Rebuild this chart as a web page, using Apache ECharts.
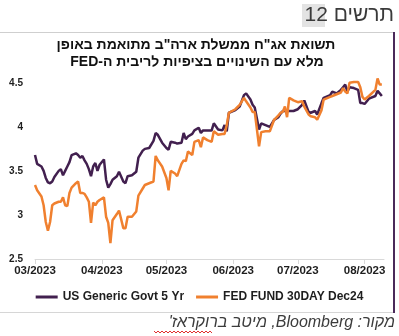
<!DOCTYPE html>
<html>
<head>
<meta charset="utf-8">
<script src="https://cdn.jsdelivr.net/npm/echarts@6/dist/echarts.min.js"></script>
<style>
  html, body { margin: 0; padding: 0; background: #ffffff; }
  #chart { width: 399px; height: 336px; direction: rtl; }
</style>
</head>
<body>
<div id="chart"></div>
<script>
// Trading dates (sampled) for both series
const dates = [
  '2023-03-01','2023-03-02','2023-03-04','2023-03-05','2023-03-06','2023-03-07','2023-03-08','2023-03-09',
  '2023-03-10','2023-03-12','2023-03-13','2023-03-14','2023-03-15','2023-03-16','2023-03-17','2023-03-18',
  '2023-03-20','2023-03-21','2023-03-22','2023-03-23','2023-03-24','2023-03-25','2023-03-26','2023-03-27',
  '2023-03-28','2023-03-29','2023-03-30','2023-03-31',
  '2023-04-02','2023-04-03','2023-04-04','2023-04-05','2023-04-06','2023-04-08','2023-04-09','2023-04-11',
  '2023-04-12','2023-04-13','2023-04-15','2023-04-17','2023-04-18','2023-04-20','2023-04-21','2023-04-23',
  '2023-04-25','2023-04-26','2023-04-27','2023-04-29',
  '2023-05-01','2023-05-02','2023-05-03','2023-05-05','2023-05-06','2023-05-08','2023-05-09','2023-05-10',
  '2023-05-11','2023-05-13','2023-05-14','2023-05-16','2023-05-17','2023-05-18','2023-05-20','2023-05-22',
  '2023-05-23','2023-05-25','2023-05-27','2023-05-28','2023-05-29','2023-05-30',
  '2023-06-02','2023-06-04','2023-06-06','2023-06-07','2023-06-09','2023-06-10','2023-06-11','2023-06-13',
  '2023-06-14','2023-06-16','2023-06-18','2023-06-20','2023-06-22','2023-06-23','2023-06-24','2023-06-25',
  '2023-06-26','2023-06-27','2023-06-29',
  '2023-07-01','2023-07-03','2023-07-04','2023-07-06','2023-07-07','2023-07-09','2023-07-10','2023-07-12',
  '2023-07-13','2023-07-16','2023-07-17','2023-07-19','2023-07-21','2023-07-22','2023-07-23','2023-07-24',
  '2023-07-25','2023-07-27','2023-07-29','2023-07-30','2023-07-31',
  '2023-08-01','2023-08-03','2023-08-06','2023-08-07','2023-08-08','2023-08-09'
];

// US Generic Govt 5 Yr yield (%)
const us5y = [
  3.68,3.58,3.55,3.50,3.42,3.37,3.36,3.38,3.43,3.50,3.52,3.45,3.50,3.55,3.60,3.68,
  3.70,3.68,3.65,3.67,3.62,3.58,3.52,3.44,3.55,3.59,3.50,3.57,
  3.63,3.40,3.31,3.35,3.40,3.44,3.49,3.38,3.36,3.44,3.45,3.49,3.65,3.73,3.75,3.76,
  3.84,3.93,3.91,3.82,
  3.76,3.74,3.83,3.82,3.81,3.82,3.93,3.86,3.89,3.92,3.96,3.99,3.93,3.96,3.96,3.96,
  4.04,3.97,3.96,4.02,3.95,4.16,
  4.19,4.23,4.36,4.38,4.31,4.25,4.22,3.97,4.04,4.02,4.00,4.08,4.11,4.15,4.18,4.18,
  4.18,4.18,4.18,
  4.20,4.25,4.30,4.17,4.16,4.18,4.14,4.27,4.33,4.36,4.40,4.38,4.42,4.45,4.48,4.40,
  4.45,4.44,4.42,4.27,4.27,
  4.26,4.32,4.35,4.41,4.38,4.35
];

// FED FUND 30DAY Dec24 implied rate (%)
const fedFund = [
  3.34,3.28,3.21,3.11,2.92,2.82,2.92,3.11,3.13,3.15,3.15,3.20,3.11,3.10,3.25,3.31,
  3.36,3.38,3.25,3.25,3.24,3.20,3.15,2.91,3.14,3.11,3.15,3.17,
  3.20,2.98,2.91,2.68,2.94,3.01,3.05,2.85,2.85,2.98,2.98,3.04,3.22,3.30,3.34,3.36,
  3.38,3.67,3.62,3.55,
  3.42,3.28,3.50,3.47,3.44,3.58,3.62,3.61,3.72,3.68,3.83,3.85,3.77,3.88,3.85,3.83,
  3.95,3.91,3.92,3.92,4.02,4.16,
  4.20,4.25,4.33,4.29,4.22,4.17,4.17,3.78,3.94,3.95,3.95,4.08,4.13,4.16,4.17,4.23,
  4.11,4.33,4.30,
  4.28,4.29,4.23,4.14,4.12,4.11,4.08,4.19,4.31,4.34,4.35,4.37,4.39,4.44,4.40,4.38,
  4.50,4.51,4.51,4.45,4.34,
  4.31,4.35,4.42,4.55,4.48,4.48
];

const seriesNames = ['US Generic Govt 5 Yr', 'FED FUND 30DAY Dec24'];
const seriesColors = ['#42204f', '#f0802f'];
const yTickStep = 0.5;

const headerText = 'תרשים 12';
const titleLines = [
  'תשואת אג"ח ממשלת ארה"ב מתואמת באופן',
  'מלא עם השינויים בציפיות לריבית ה-FED'
];
const sourceText = "מקור: Bloomberg, מיטב ברוקראז'";

const DAY = 24 * 3600 * 1000;
const latin = "'Liberation Sans', Arial, 'DejaVu Sans', sans-serif";

// small wavy underline under the last word of the source line
const squiggle = [];
for (let x = 154, k = 0; x <= 213; x += 2, k++) {
  squiggle.push([x, k % 2 === 0 ? 331 : 333]);
}

const chart = echarts.init(document.getElementById('chart'), null, { renderer: 'canvas' });

chart.setOption({
  animation: false,
  backgroundColor: '#ffffff',
  grid: { left: 35, right: 15, top: 74, bottom: 77, containLabel: false },
  legend: {
    data: seriesNames,
    left: 'center',
    top: 286,
    icon: 'rect',
    itemWidth: 22,
    itemHeight: 3,
    itemGap: 12,
    textStyle: { fontFamily: latin, fontWeight: 'bold', fontSize: 12, color: '#1e1e1e' }
  },
  xAxis: {
    type: 'time',
    min: +new Date(2023, 2, 1),
    max: +new Date(2023, 7, 10),
    minInterval: 28 * DAY,
    maxInterval: 31 * DAY,
    splitLine: { show: false },
    axisLine: { show: true, lineStyle: { color: '#d9d9d9', width: 1 } },
    axisTick: { show: true, length: 5, lineStyle: { color: '#d9d9d9' } },
    minorTick: { show: false },
    axisLabel: {
      showMaxLabel: false,
      margin: 6,
      fontFamily: latin,
      fontWeight: 'bold',
      fontSize: 11.5,
      color: '#1e1e1e',
      formatter: function (v) {
        const d = new Date(v);
        const m = d.getMonth() + 1;
        return (m < 10 ? '0' + m : '' + m) + '/' + d.getFullYear();
      }
    }
  },
  yAxis: {
    type: 'value',
    min: 2.5,
    max: 4.6,
    interval: yTickStep,
    splitLine: { show: false },
    axisLine: { show: false },
    axisTick: { show: false },
    axisLabel: {
      margin: 12,
      fontFamily: latin,
      fontWeight: 'bold',
      fontSize: 10,
      color: '#1e1e1e',
      formatter: function (v) {
        const r = Math.round(v / yTickStep) * yTickStep;
        return Math.abs(r - v) < 1e-9 ? String(+v.toFixed(1)) : '';
      }
    }
  },
  series: [
    {
      name: seriesNames[0],
      type: 'line',
      data: dates.map((d, i) => [d, us5y[i]]),
      showSymbol: false,
      symbol: 'none',
      color: seriesColors[0],
      lineStyle: { color: seriesColors[0], width: 2.5 },
      z: 2
    },
    {
      name: seriesNames[1],
      type: 'line',
      data: dates.map((d, i) => [d, fedFund[i]]),
      showSymbol: false,
      symbol: 'none',
      color: seriesColors[1],
      lineStyle: { color: seriesColors[1], width: 2.5 },
      z: 3
    }
  ],
  graphic: [
    // frame
    { type: 'line', shape: { x1: 0, y1: 32.5, x2: 394, y2: 32.5 }, style: { stroke: '#cfcfcf', lineWidth: 1 } },
    { type: 'line', shape: { x1: 0, y1: 312.5, x2: 394, y2: 312.5 }, style: { stroke: '#d6d6d6', lineWidth: 1 } },
    { type: 'line', shape: { x1: 394, y1: 32, x2: 394, y2: 313 }, style: { stroke: '#4a2a5a', lineWidth: 2 } },
    // header
    { type: 'rect', shape: { x: 302, y: 4, width: 23, height: 23 }, style: { fill: '#e3e3e3' } },
    {
      type: 'text', x: 394, y: 15,
      style: { text: headerText, align: 'right', verticalAlign: 'middle',
               font: "21px 'Liberation Sans', 'DejaVu Sans', sans-serif", fill: '#3a3a3a' }
    },
    // title
    {
      type: 'text', x: 196, y: 45,
      style: { text: titleLines[0], align: 'center', verticalAlign: 'middle',
               font: "bold 14px 'Liberation Sans', 'DejaVu Sans', sans-serif", fill: '#111111' }
    },
    {
      type: 'text', x: 197, y: 62,
      style: { text: titleLines[1], align: 'center', verticalAlign: 'middle',
               font: "bold 14px 'Liberation Sans', 'DejaVu Sans', sans-serif", fill: '#111111' }
    },
    // source
    {
      type: 'text', x: 395, y: 323,
      style: { text: sourceText, align: 'right', verticalAlign: 'middle',
               font: "italic 16px 'Liberation Sans', 'DejaVu Sans', sans-serif", fill: '#3c3c3c' }
    },
    { type: 'polyline', shape: { points: squiggle }, style: { stroke: '#e03030', lineWidth: 1, fill: null } }
  ]
});
</script>
</body>
</html>
